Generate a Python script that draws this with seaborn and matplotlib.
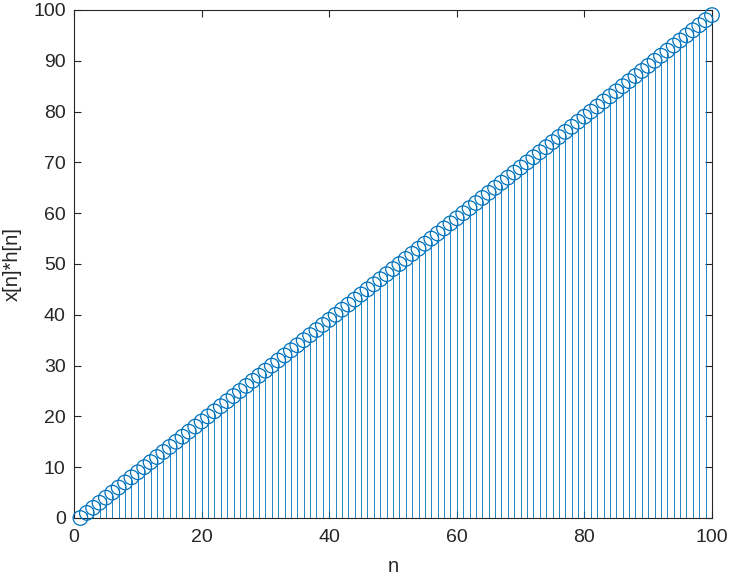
import numpy as np
import pandas as pd
import matplotlib
matplotlib.use("Agg")
import matplotlib.pyplot as plt
import seaborn as sns

n_values = list(range(1, 101))
y_values = [v - 1 for v in n_values]
x_ticks = [0, 20, 40, 60, 80, 100]
y_ticks = [0, 10, 20, 30, 40, 50, 60, 70, 80, 90, 100]

df = pd.DataFrame({"n": n_values, "y": y_values})

sns.set_style("white")
plt.rcParams['font.family'] = ['Liberation Sans', 'DejaVu Sans']

fig = plt.figure(figsize=(7.31, 5.75), dpi=100)
ax = fig.add_axes([74/731, 57/575, (712-74)/731, (518-10)/575])

blue = "#0072BD"
ax.vlines(df["n"], 0, df["y"], color=blue, linewidth=0.6)
sns.scatterplot(data=df, x="n", y="y", ax=ax, marker="o", s=110,
                facecolors="none", edgecolor=blue, linewidth=0.9, zorder=3, clip_on=False)

ax.set_xlim(0, 100)
ax.set_ylim(0, 100)
ax.set_xticks(x_ticks)
ax.set_yticks(y_ticks)
ax.set_xlabel("n", fontsize=14.5, color="#262626", labelpad=8)
ax.set_ylabel("x[n]*h[n]", fontsize=14.5, color="#262626", labelpad=8)
ax.tick_params(direction="in", length=5, width=0.8, colors="#262626",
               labelsize=14, top=True, right=True, bottom=True, left=True)
ax.tick_params(axis="x", pad=8)
ax.tick_params(axis="y", pad=6)
for s in ax.spines.values():
    s.set_color("#262626")
    s.set_linewidth(0.8)
    s.set_visible(True)

fig.savefig("out.png", dpi=100)
